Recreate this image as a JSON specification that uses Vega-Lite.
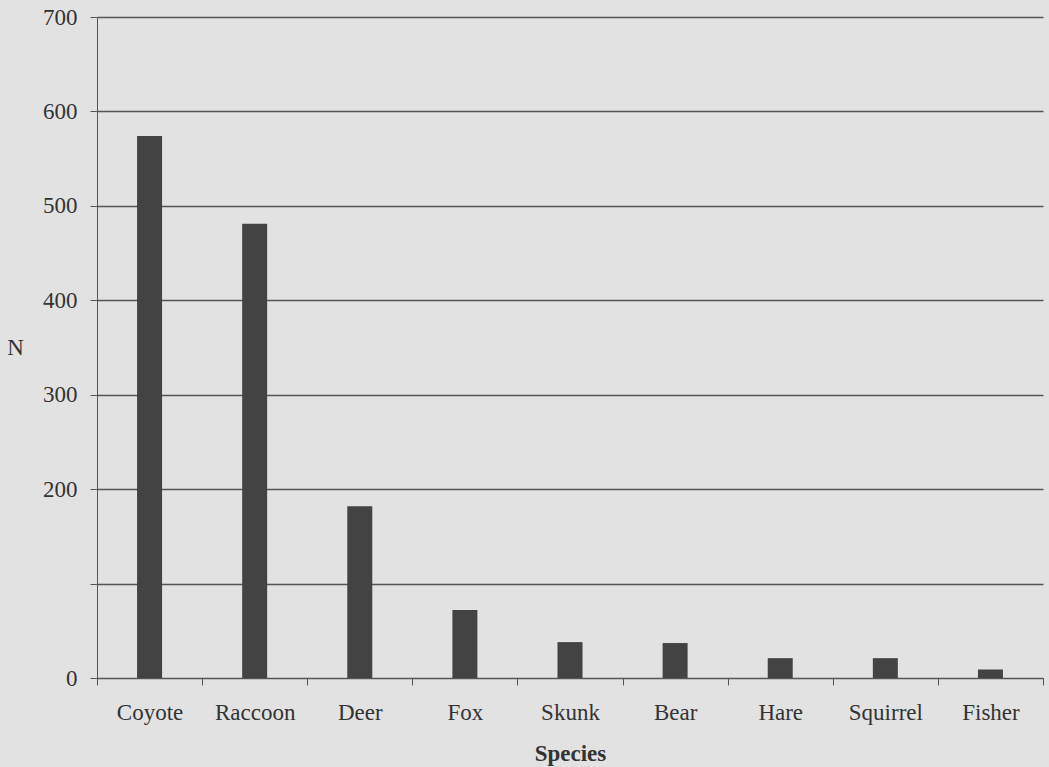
{
  "$schema": "https://vega.github.io/schema/vega-lite/v6.json",
  "autosize": "none",
  "padding": {"left": 97, "top": 17, "right": 6, "bottom": 89},
  "width": 946,
  "height": 661,
  "background": "#e2e2e2",
  "config": {
    "view": {"stroke": null},
    "font": "Liberation Serif"
  },
  "data": {
    "values": [
      {"species": "Coyote", "n": 574},
      {"species": "Raccoon", "n": 481},
      {"species": "Deer", "n": 182},
      {"species": "Fox", "n": 72},
      {"species": "Skunk", "n": 38},
      {"species": "Bear", "n": 37},
      {"species": "Hare", "n": 21},
      {"species": "Squirrel", "n": 21},
      {"species": "Fisher", "n": 9}
    ]
  },
  "mark": {"type": "bar", "size": 25, "color": "#434343"},
  "encoding": {
    "x": {
      "field": "species",
      "type": "nominal",
      "sort": null,
      "scale": {"paddingInner": 0, "paddingOuter": 0},
      "axis": {
        "title": "Species",
        "titleFont": "Liberation Serif",
        "titleFontSize": 23,
        "titleFontWeight": "bold",
        "titleColor": "#333333",
        "titleBaseline": "alphabetic",
        "titleY": 82,
        "labelAngle": 0,
        "labelFont": "Liberation Serif",
        "labelFontSize": 23,
        "labelColor": "#333333",
        "labelPadding": 16,
        "tickBand": "extent",
        "tickSize": 7,
        "tickColor": "#555555",
        "domainColor": "#555555",
        "grid": false
      }
    },
    "y": {
      "field": "n",
      "type": "quantitative",
      "scale": {"domain": [0, 700], "nice": false},
      "axis": {
        "title": "N",
        "titleAngle": 0,
        "titleX": -82,
        "titleY": 330,
        "titleAlign": "center",
        "titleBaseline": "middle",
        "titleFont": "Liberation Serif",
        "titleFontSize": 23,
        "titleFontWeight": "normal",
        "titleColor": "#333333",
        "values": [0, 100, 200, 300, 400, 500, 600, 700],
        "labelExpr": "datum.value == 100 ? '' : datum.label",
        "labelFont": "Liberation Serif",
        "labelFontSize": 23,
        "labelColor": "#333333",
        "labelPadding": 13,
        "tickSize": 7,
        "tickColor": "#555555",
        "domainColor": "#555555",
        "grid": true,
        "gridColor": "#555555",
        "gridOpacity": 1,
        "gridWidth": 1.3
      }
    }
  }
}
